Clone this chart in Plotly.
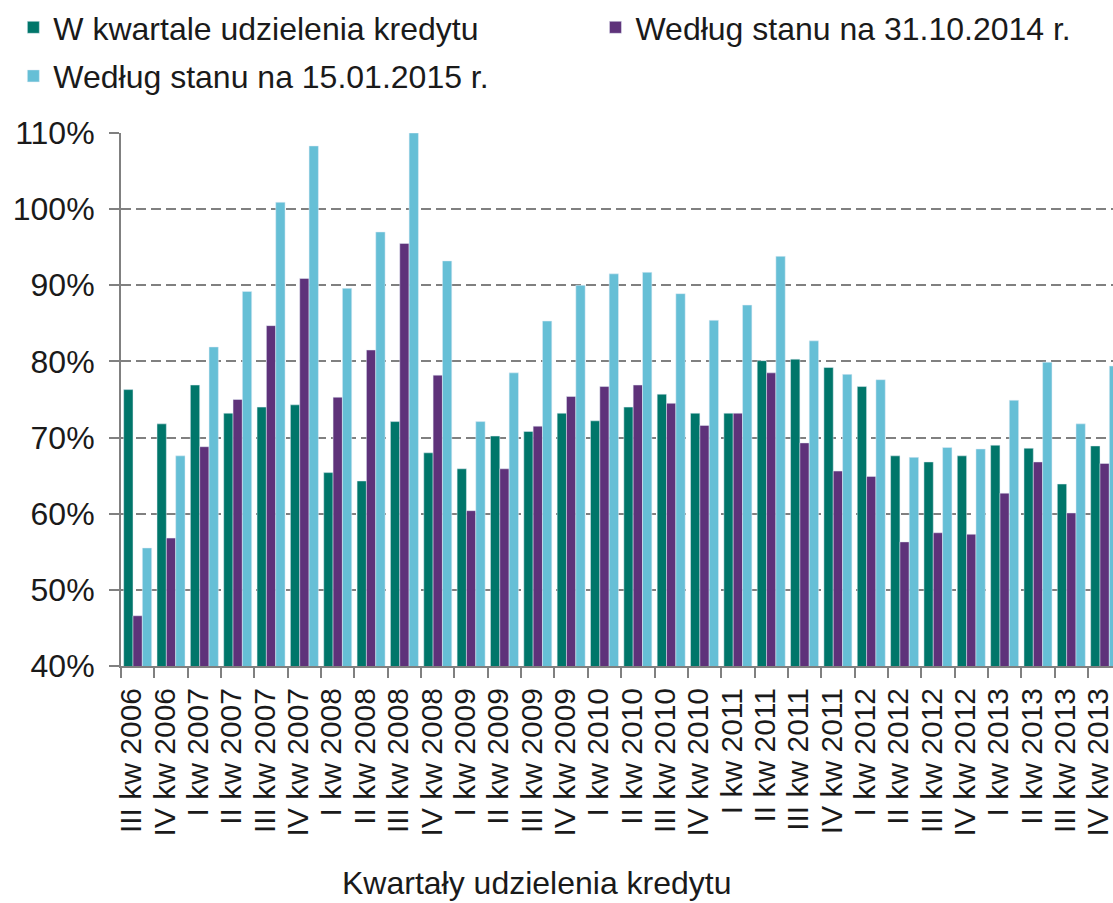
import plotly.graph_objects as go

kwartaly = [
    "III kw 2006", "IV kw 2006",
    "I kw 2007", "II kw 2007", "III kw 2007", "IV kw 2007",
    "I kw 2008", "II kw 2008", "III kw 2008", "IV kw 2008",
    "I kw 2009", "II kw 2009", "III kw 2009", "IV kw 2009",
    "I kw 2010", "II kw 2010", "III kw 2010", "IV kw 2010",
    "I kw 2011", "II kw 2011", "III kw 2011", "IV kw 2011",
    "I kw 2012", "II kw 2012", "III kw 2012", "IV kw 2012",
    "I kw 2013", "II kw 2013", "III kw 2013", "IV kw 2013",
]

w_kwartale = [76.3, 71.8, 76.9, 73.2, 74.0, 74.3, 65.4, 64.3, 72.1, 68.0,
              65.9, 70.2, 70.8, 73.2, 72.2, 74.0, 75.7, 73.2, 73.2, 80.1,
              80.3, 79.2, 76.7, 67.6, 66.8, 67.6, 69.0, 68.6, 63.9, 68.9]
stan_2014 = [46.6, 56.8, 68.8, 75.0, 84.7, 90.9, 75.3, 81.5, 95.5, 78.2,
             60.4, 65.9, 71.5, 75.4, 76.7, 76.9, 74.5, 71.6, 73.2, 78.5,
             69.3, 65.6, 64.9, 56.3, 57.5, 57.3, 62.7, 66.8, 60.1, 66.6]
stan_2015 = [55.5, 67.6, 81.9, 89.2, 100.9, 108.3, 89.6, 97.0, 110.0, 93.2,
             72.1, 78.5, 85.3, 90.0, 91.5, 91.7, 88.9, 85.4, 87.4, 93.8,
             82.7, 78.3, 77.6, 67.4, 68.7, 68.5, 74.9, 79.9, 71.8, 79.4]

FONT = "Liberation Sans, Arial, sans-serif"
TXT = "#1a1a1a"

fig = go.Figure()
fig.add_trace(go.Bar(x=kwartaly, y=w_kwartale, name="W kwartale udzielenia kredytu",
                     marker_color="#00766a", legend="legend", legendgroup="a"))
fig.add_trace(go.Bar(x=kwartaly, y=stan_2014, name="Według stanu na 31.10.2014 r.",
                     marker_color="#5e327a", legend="legend2", legendgroup="b"))
fig.add_trace(go.Bar(x=kwartaly, y=stan_2015, name="Według stanu na 15.01.2015 r.",
                     marker_color="#66bfd6", legend="legend", legendgroup="c"))

fig.update_layout(
    width=1113,
    height=903,
    barmode="group",
    bargap=0.16,
    bargroupgap=0,
    plot_bgcolor="white",
    paper_bgcolor="white",
    font=dict(family=FONT, color=TXT, size=31),
    margin=dict(l=121, r=0, t=133, b=237, autoexpand=False),
    legend=dict(
        xref="container", yref="container", x=0.012, y=1.0,
        xanchor="left", yanchor="top",
        font=dict(size=32, color=TXT), tracegroupgap=4,
        bgcolor="rgba(0,0,0,0)",
    ),
    legend2=dict(
        xref="container", yref="container", x=0.535, y=1.0,
        xanchor="left", yanchor="top",
        font=dict(size=32, color=TXT),
        bgcolor="rgba(0,0,0,0)",
    ),
    annotations=[
        dict(text="Kwartały udzielenia kredytu", xref="paper", yref="paper",
             x=0.419, y=-0.408, xanchor="center", yanchor="middle",
             showarrow=False, font=dict(size=32, color=TXT)),
    ],
)

fig.update_xaxes(
    type="category",
    range=[-0.5, 29.25],
    automargin=False,
    tickmode="linear", tick0=0, dtick=1,
    tickangle=-90,
    ticks="outside", ticklen=10, tickwidth=2, tickcolor="#808080",
    tickson="boundaries",
    showline=True, linecolor="#808080", linewidth=2,
    tickfont=dict(size=30, color=TXT),
    ticklabelstandoff=8,
    ticklabelshift=-6,
)
fig.update_yaxes(
    range=[40, 110],
    automargin=False,
    dtick=10,
    ticksuffix="%",
    ticks="outside", ticklen=10, tickwidth=2, tickcolor="#808080",
    showline=True, linecolor="#808080", linewidth=2,
    showgrid=True, gridcolor="#808080", gridwidth=2, griddash="10px,5px",
    zeroline=False,
    tickfont=dict(size=32, color=TXT),
    ticklabelstandoff=8,
)

# strona bez domyślnego marginesu body
fig.write_html("out.html", config={"displayModeBar": False},
               post_script="document.body.style.margin='0';")
